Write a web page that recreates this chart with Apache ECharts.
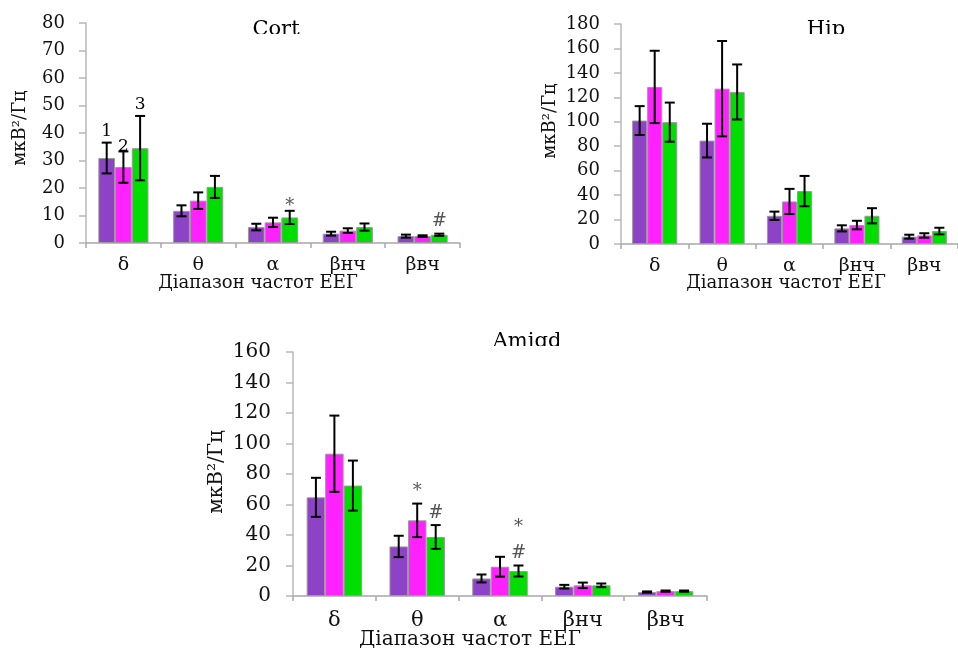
<!DOCTYPE html>
<html><head><meta charset="utf-8">
<script src="https://cdn.jsdelivr.net/npm/echarts@6/dist/echarts.min.js"></script>
<style>html,body{margin:0;padding:0;background:#fff}#c{width:958px;height:648px}</style>
</head><body><div id="c"></div>
<script>
// ---------- data ----------
const categories = ['δ', 'θ', 'α', 'βнч', 'βвч'];
const seriesNames = ['1', '2', '3'];

const cortMean1 = [30.9, 11.7, 5.8, 3.4, 2.5];
const cortErr1  = [5.6, 2.0, 1.2, 0.7, 0.55];
const cortMean2 = [27.6, 15.4, 7.5, 4.5, 2.5];
const cortErr2  = [5.7, 3.0, 1.7, 0.85, 0.3];
const cortMean3 = [34.5, 20.4, 9.3, 5.8, 3.0];
const cortErr3  = [11.7, 4.0, 2.4, 1.3, 0.4];

const hipMean1 = [101.0, 84.6, 23.1, 12.8, 6.0];
const hipErr1  = [11.8, 13.8, 3.4, 2.5, 1.6];
const hipMean2 = [128.5, 127.1, 34.8, 15.5, 7.0];
const hipErr2  = [29.6, 39.0, 10.3, 3.5, 1.8];
const hipMean3 = [99.7, 124.4, 43.3, 23.1, 10.6];
const hipErr3  = [16.0, 22.5, 12.4, 6.2, 2.7];

const amMean1 = [64.7, 32.5, 11.5, 6.1, 2.6];
const amErr1  = [12.8, 7.0, 2.6, 1.2, 0.4];
const amMean2 = [93.3, 49.6, 19.2, 7.0, 3.2];
const amErr2  = [25.0, 11.0, 6.5, 1.8, 0.4];
const amMean3 = [72.4, 38.7, 16.4, 7.0, 3.2];
const amErr3  = [16.4, 7.8, 3.6, 1.2, 0.4];

// annotations: [category index, series index, text, stack level]
const cortNotes = [[0, 0, '1', 0], [0, 1, '2', -0.25], [0, 2, '3', 0], [2, 2, '*', -0.3], [4, 2, '#', 0]];
const hipNotes = [];
const amNotes = [[1, 1, '*', 0], [1, 2, '#', 0], [2, 2, '#', 0], [2, 2, '*', 1]];

const titles = ['Cort', 'Hip', 'Amigd'];
const yName = 'мкВ²/Гц';
const xName = 'Діапазон частот ЕЕГ';

// ---------- layout / style ----------
const colors = ['#8E42C6', '#FF22FF', '#00DD00'];
const FONT = 'DejaVu Serif';
const GAP = 0.33;

const panels = [
  { means: [cortMean1, cortMean2, cortMean3], errs: [cortErr1, cortErr2, cortErr3], notes: cortNotes,
    max: 80, interval: 10, grid: { left: 86, top: 23, width: 374, height: 220 },
    tick: 18, cat: 19, name: 18, catMargin: 13, labMargin: 21,
    title: { x: 276, y: 19, clipY: 34, clipX: 236, clipW: 80 },
    yNamePos: [20, 128], xNamePos: [258, 283] },
  { means: [hipMean1, hipMean2, hipMean3], errs: [hipErr1, hipErr2, hipErr3], notes: hipNotes,
    max: 180, interval: 20, grid: { left: 621, top: 24, width: 356, height: 220 },
    tick: 18, cat: 19, name: 18, catMargin: 13, labMargin: 21,
    title: { x: 826, y: 19, clipY: 34, clipX: 790, clipW: 75 },
    yNamePos: [550, 121], xNamePos: [786, 283] },
  { means: [amMean1, amMean2, amMean3], errs: [amErr1, amErr2, amErr3], notes: amNotes,
    max: 160, interval: 20, grid: { left: 293, top: 352, width: 414, height: 244 },
    tick: 20, cat: 21, name: 20, catMargin: 14, labMargin: 22,
    title: { x: 527, y: 331, clipY: 346, clipX: 480, clipW: 100 },
    yNamePos: [217, 472], xNamePos: [470, 640] }
];

const grid = [], xAxis = [], yAxis = [], series = [], graphic = [];

function barX(api, i, s) {
  const c = api.coord([i, 0]);
  const bw = api.size([1, 0])[0];
  const gw = bw * (1 - GAP);
  return c[0] - gw / 2 + gw / 3 * (s + 0.5);
}

panels.forEach(function (p, k) {
  grid.push(Object.assign({ containLabel: false }, p.grid));
  xAxis.push({
    type: 'category', gridIndex: k, data: categories,
    axisLine: { show: true, lineStyle: { color: '#a8a8a8', width: 1.5 } },
    axisTick: { show: true, length: 5, alignWithLabel: false, lineStyle: { color: '#a8a8a8', width: 1.5 } },
    axisLabel: { color: '#111', fontFamily: FONT, fontSize: p.cat, margin: p.catMargin }
  });
  yAxis.push({
    type: 'value', gridIndex: k, min: 0, max: p.max, interval: p.interval,
    splitLine: { show: false },
    axisLine: { show: true, lineStyle: { color: '#b8b8b8', width: 1.5 } },
    axisTick: { show: true, length: 7, lineStyle: { color: '#b8b8b8', width: 1.5 } },
    axisLabel: { color: '#111', fontFamily: FONT, fontSize: p.tick, margin: p.labMargin }
  });
  for (let s = 0; s < 3; s++) {
    series.push({
      type: 'bar', name: seriesNames[s], xAxisIndex: k, yAxisIndex: k,
      data: p.means[s], barGap: '0%', barCategoryGap: (GAP * 100) + '%',
      itemStyle: { color: colors[s], borderColor: '#9a9a9a', borderWidth: 1 },
      z: 2
    });
  }
  // error bars
  const errData = [];
  for (let s = 0; s < 3; s++) for (let i = 0; i < 5; i++) errData.push([i, p.means[s][i], s, p.errs[s][i]]);
  series.push({
    type: 'custom', xAxisIndex: k, yAxisIndex: k, z: 5, silent: true,
    data: errData, encode: { x: 0, y: 1 },
    renderItem: function (params, api) {
      const i = api.value(0), m = api.value(1), s = api.value(2), e = api.value(3);
      const x = barX(api, i, s);
      const yt = api.coord([i, m + e])[1], yb = api.coord([i, Math.max(0, m - e)])[1];
      const h = 5, st = { stroke: '#000', lineWidth: 2 };
      return { type: 'group', children: [
        { type: 'line', shape: { x1: x, y1: yt, x2: x, y2: yb }, style: st },
        { type: 'line', shape: { x1: x - h, y1: yt, x2: x + h, y2: yt }, style: st },
        { type: 'line', shape: { x1: x - h, y1: yb, x2: x + h, y2: yb }, style: st }
      ] };
    }
  });
  // annotations
  if (p.notes.length) {
    const noteData = p.notes.map(function (n) {
      return [n[0], p.means[n[1]][n[0]] + p.errs[n[1]][n[0]], n[1], n[3]];
    });
    series.push({
      type: 'custom', xAxisIndex: k, yAxisIndex: k, z: 6, silent: true,
      data: noteData, encode: { x: 0, y: 1 },
      renderItem: function (params, api) {
        const n = p.notes[params.dataIndex];
        const i = api.value(0), top = api.value(1), s = api.value(2), lvl = api.value(3);
        const x = barX(api, i, s);
        const y = api.coord([i, top])[1];
        const isSym = (n[2] === '*' || n[2] === '#');
        return { type: 'text', style: {
          text: n[2], x: x, y: y - 3 - lvl * 26,
          align: 'center', verticalAlign: 'bottom',
          fill: isSym ? '#555' : '#000',
          font: (isSym ? 18 : 17) + 'px "' + FONT + '"'
        } };
      }
    });
  }
  // title (clipped at bottom as in reference)
  graphic.push({ type: 'text', x: p.title.x, y: p.title.y, z: 10,
    style: { text: titles[k], font: '21px "' + FONT + '"', fill: '#000', align: 'center', verticalAlign: 'top' } });
  graphic.push({ type: 'rect', x: p.title.clipX, y: p.title.clipY, z: 11,
    shape: { width: p.title.clipW, height: 16 }, style: { fill: '#fff' } });
  // axis names
  graphic.push({ type: 'text', x: p.yNamePos[0], y: p.yNamePos[1], rotation: Math.PI / 2, z: 10,
    style: { text: yName, font: p.name + 'px "' + FONT + '"', fill: '#111', align: 'center', verticalAlign: 'middle' } });
  graphic.push({ type: 'text', x: p.xNamePos[0], y: p.xNamePos[1], z: 10,
    style: { text: xName, font: p.name + 'px "' + FONT + '"', fill: '#111', align: 'center', verticalAlign: 'middle' } });
});

const chart = echarts.init(document.getElementById('c'), null, { renderer: 'canvas' });
chart.setOption({
  animation: false,
  backgroundColor: '#fff',
  grid: grid, xAxis: xAxis, yAxis: yAxis, series: series, graphic: graphic
});
</script>
</body></html>
